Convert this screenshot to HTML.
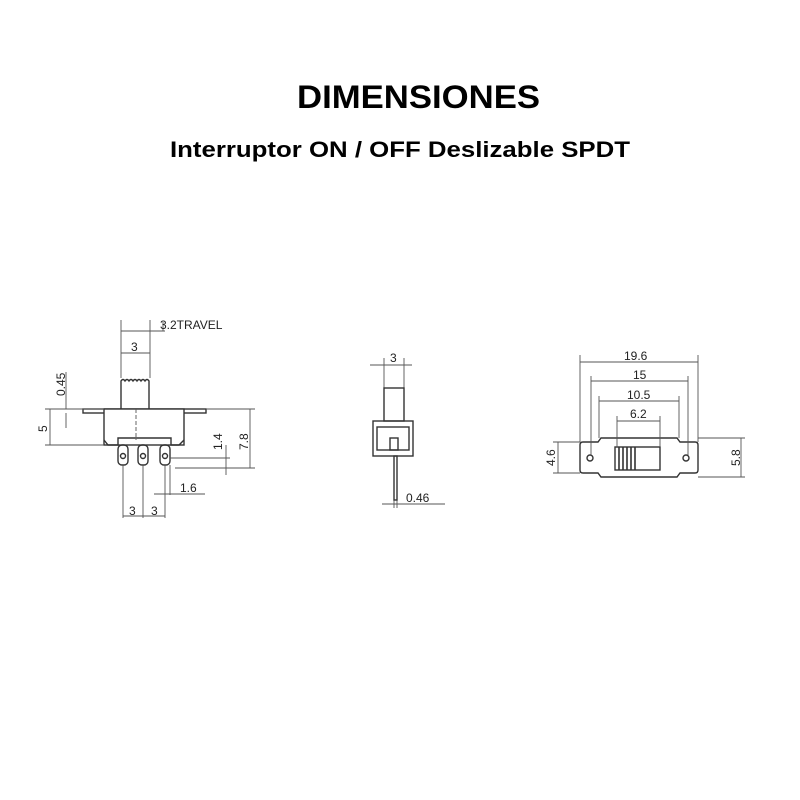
<!DOCTYPE html>
<html><head><meta charset="utf-8"><style>
html,body{margin:0;padding:0;background:#fff;}
svg{display:block;}
</style></head><body>
<svg width="800" height="800" viewBox="0 0 800 800" xmlns="http://www.w3.org/2000/svg">
<rect width="800" height="800" fill="#fff"/>
<text x="297" y="108" font-family="Liberation Sans, sans-serif" font-weight="bold" font-size="32" textLength="243" lengthAdjust="spacingAndGlyphs" fill="#000">DIMENSIONES</text>
<text x="170" y="157" font-family="Liberation Sans, sans-serif" font-weight="bold" font-size="22" textLength="460" lengthAdjust="spacingAndGlyphs" fill="#000">Interruptor ON / OFF Deslizable SPDT</text>

<g stroke="#333" fill="none" stroke-width="1.4">
<rect x="83" y="409" width="123" height="4"/>
<rect x="104" y="409" width="80" height="36" fill="#fff"/>
<path d="M121 409 V381 q2 -3 4 0 q2 -3 4 0 q2 -3 4 0 q2 -3 4 0 q2 -3 4 0 q2 -3 4 0 q2 -3 4 0 V409"/>
<path d="M104 440 l4 5 h10 v-7 h53 v7 h8 l5 -5"/>
<rect x="118" y="445" width="10" height="20" rx="4"/>
<rect x="138" y="445" width="10" height="20" rx="4"/>
<rect x="160" y="445" width="10" height="20" rx="4"/>
<circle cx="123" cy="456" r="2.5"/><circle cx="143" cy="456" r="2.5"/><circle cx="165" cy="456" r="2.5"/>
</g>
<g stroke="#555" fill="none" stroke-width="0.9">
<path d="M121 320 V378 M150 320 V378 M163 322 V331"/>
<path d="M121 331 H165 M121 353 H150"/>
<path d="M66 372 V409 M66 413 V428 M50 409 V445 M45 409 H104 M45 445 H104"/>
<path d="M206 409 H255 M175 468 H255 M250 409 V468 M226 445 V475 M170 458 H230"/>
<path d="M123 465 V518 M143 465 V518 M165 465 V518 M170 465 V495 M154 494 H205 M123 516 H165"/>
<path d="M136 409 V440" stroke-dasharray="4 2"/>
<path d="M384 358 V388 M404 358 V388 M370 365 H412 M394 500 V508 M397 500 V508 M382 504 H445"/>
</g>
<g font-family="Liberation Sans, sans-serif" font-size="12" fill="#222">
<text x="160" y="329">3.2TRAVEL</text>
<text x="131" y="351">3</text>
<text transform="translate(65,396) rotate(-90)">0.45</text>
<text transform="translate(47,432) rotate(-90)">5</text>
<text transform="translate(222,450) rotate(-90)">1.4</text>
<text transform="translate(248,450) rotate(-90)">7.8</text>
<text x="180" y="492">1.6</text>
<text x="129" y="515">3</text>
<text x="151" y="515">3</text>
<text x="390" y="362">3</text>
<text x="406" y="502">0.46</text>
<text x="624" y="360">19.6</text>
<text x="633" y="379">15</text>
<text x="627" y="399">10.5</text>
<text x="630" y="418">6.2</text>
<text transform="translate(555,466) rotate(-90)">4.6</text>
<text transform="translate(740,466) rotate(-90)">5.8</text>
</g>
<g stroke="#333" fill="none" stroke-width="1.4">
<rect x="384" y="388" width="20" height="33"/>
<rect x="373" y="421" width="40" height="35"/>
<rect x="377" y="427" width="32" height="23"/>
<rect x="390" y="438" width="8" height="12"/>
<rect x="394" y="456" width="3" height="44"/>
<path d="M580 445 q0 -3 3 -3 h15 l3 -4 h76 l3 4 h15 q3 0 3 3 v25 q0 3 -3 3 h-15 l-3 4 h-76 l-3 -4 h-15 q-3 0 -3 -3 z"/>
<rect x="615" y="447" width="45" height="23"/>
<circle cx="590" cy="458" r="3"/><circle cx="686" cy="458" r="3"/>
</g>
<g stroke="#333" stroke-width="1.6">
<path d="M619 447 V470 M623 447 V470 M627 447 V470 M631 447 V470 M635 447 V470"/>
</g>
<g stroke="#555" fill="none" stroke-width="0.9">
<path d="M580 355 V442 M698 355 V442 M591 376 V455 M688 376 V455 M599 396 V438 M679 396 V438 M617 416 V447 M660 416 V447"/>
<path d="M580 362 H698 M591 381 H688 M599 401 H679 M617 421 H660"/>
<path d="M553 442 H580 M553 473 H580 M558 442 V473 M698 438 H745 M698 477 H745 M741 438 V477"/>
</g>
</svg>
</body></html>
